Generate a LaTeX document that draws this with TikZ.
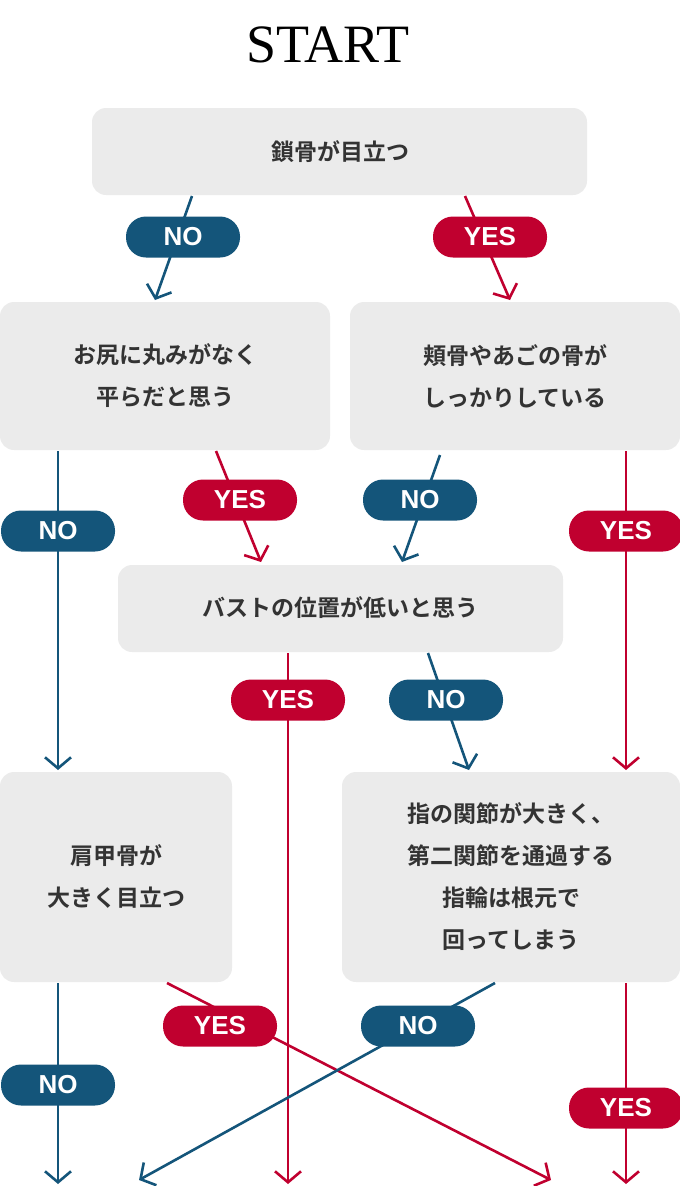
\documentclass[tikz,border=0pt]{standalone}
\usepackage{fontspec}
\setmainfont{Noto Sans CJK JP}[BoldFont={Noto Sans CJK JP Bold}]
\newfontfamily\startfont{Liberation Serif}
\newfontfamily\pillfont{Liberation Sans}[BoldFont={Liberation Sans Bold}]
\usetikzlibrary{arrows.meta}
\definecolor{bx}{HTML}{EBEBEB}
\definecolor{bl}{HTML}{14557A}
\definecolor{rd}{HTML}{C0002F}
\definecolor{tx}{HTML}{333333}
\begin{document}
\begin{tikzpicture}[x=1pt,y=-1pt,
  box/.style={fill=bx,rounded corners=14pt,draw=none,text=tx,align=center,font=\fontsize{23}{42}\selectfont\bfseries},
  pill/.style={rounded corners=20pt,minimum width=114pt,minimum height=41pt,inner sep=0pt,text=white,font=\fontsize{26}{26}\selectfont\pillfont\bfseries},
  no/.style={pill,fill=bl},
  yes/.style={pill,fill=rd},
  ar/.style={line width=2.6pt,-{Straight Barb[length=11pt,width=26pt,line width=2.6pt]}},
  ab/.style={ar,draw=bl},
  arr/.style={ar,draw=rd}]
\useasboundingbox (0,0) rectangle (680,1186);
\node[font=\fontsize{54}{54}\selectfont\startfont,text=black] (st) at (328,45) {START};
% boxes
\path[box] (92,108) rectangle (587,195); \node[box,fill=none] (b1) at (340,152) {鎖骨が目立つ};
\path[box] (0,302) rectangle (330,450); \node[box,fill=none] (b2) at (165,376) {お尻に丸みがなく\\平らだと思う};
\path[box] (350,302) rectangle (680,450); \node[box,fill=none] (b3) at (515,376) {頬骨やあごの骨が\\しっかりしている};
\path[box] (118,565) rectangle (563,652); \node[box,fill=none] (b4) at (340,608) {バストの位置が低いと思う};
\path[box] (0,772) rectangle (232,982); \node[box,fill=none] (b5) at (116,877) {肩甲骨が\\大きく目立つ};
\path[box] (342,772) rectangle (680,982); \node[box,fill=none] (b6) at (511,877) {指の関節が大きく、\\第二関節を通過する\\指輪は根元で\\回ってしまう};
% coordinates
\coordinate (a1s) at (192,196); \coordinate (a1e) at (155,300);
\coordinate (a2s) at (465,196); \coordinate (a2e) at (510,300);
\coordinate (a3s) at (58,451); \coordinate (a3e) at (58,770);
\coordinate (a4s) at (216,451); \coordinate (a4e) at (261,562);
\coordinate (a5s) at (440,455); \coordinate (a5e) at (402,562);
\coordinate (a6s) at (626,451); \coordinate (a6e) at (626,770);
\coordinate (a7s) at (288,653); \coordinate (a7e) at (288,1184);
\coordinate (a8s) at (428,653); \coordinate (a8e) at (469,770);
\coordinate (a9s) at (58,983); \coordinate (a9e) at (58,1184);
\coordinate (a10s) at (167,983); \coordinate (a10e) at (551,1180);
\coordinate (a11s) at (495,983); \coordinate (a11e) at (139,1180);
\coordinate (a12s) at (626,983); \coordinate (a12e) at (626,1184);
\draw[ab] (a1s) -- (a1e); \draw[arr] (a2s) -- (a2e);
\draw[ab] (a3s) -- (a3e); \draw[arr] (a4s) -- (a4e);
\draw[ab] (a5s) -- (a5e); \draw[arr] (a6s) -- (a6e);
\draw[arr] (a7s) -- (a7e); \draw[ab] (a8s) -- (a8e);
\draw[ab] (a9s) -- (a9e); \draw[arr] (a10s) -- (a10e);
\draw[ab] (a11s) -- (a11e); \draw[arr] (a12s) -- (a12e);
% pills
\node[no] (p1) at (183,237) {NO};
\node[yes] (p2) at (490,237) {YES};
\node[no] (p3) at (58,531) {NO};
\node[yes] (p4) at (240,500) {YES};
\node[no] (p5) at (420,500) {NO};
\node[yes] (p6) at (626,531) {YES};
\node[yes] (p7) at (288,700) {YES};
\node[no] (p8) at (446,700) {NO};
\node[no] (p9) at (58,1085) {NO};
\node[yes] (p10) at (220,1026) {YES};
\node[no] (p11) at (418,1026) {NO};
\node[yes] (p12) at (626,1108) {YES};
\end{tikzpicture}
\end{document}
